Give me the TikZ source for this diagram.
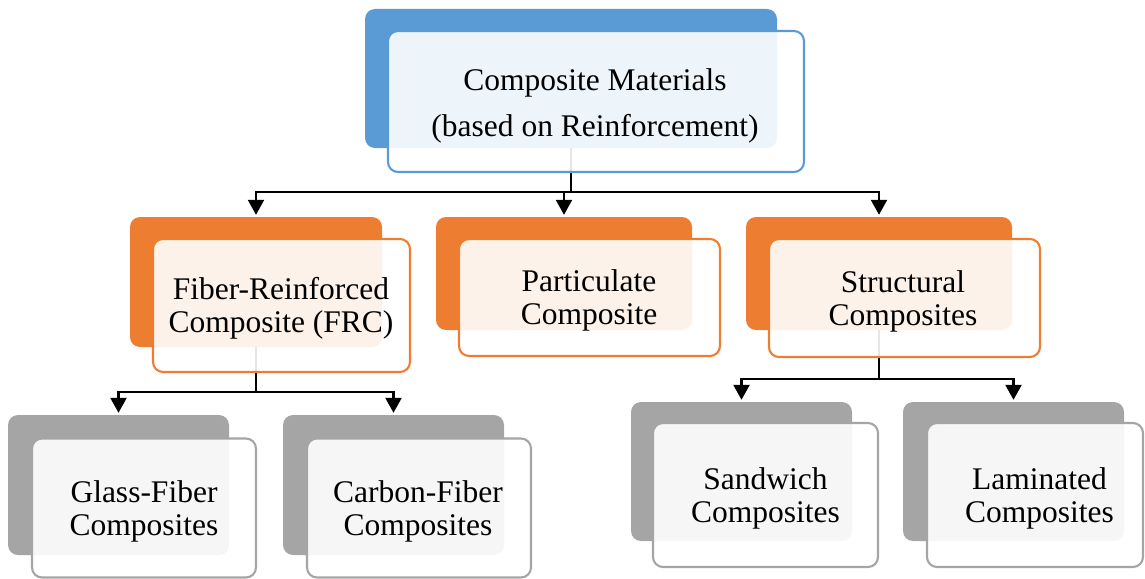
\documentclass[tikz,border=0pt]{standalone}
\usepackage{fontspec}
\setmainfont{LiberationSerif}[Extension=.ttf, UprightFont=*-Regular]
\usetikzlibrary{arrows.meta}
\definecolor{cblue}{HTML}{5B9BD5}
\definecolor{corange}{HTML}{ED7D31}
\definecolor{cgray}{HTML}{A5A5A5}
\begin{document}
\begin{tikzpicture}[x=1pt,y=-1pt,
  back/.style={rectangle, rounded corners=10pt, fill=#1, draw=none, inner sep=0pt},
  front/.style={rectangle, rounded corners=10pt, draw=#1, line width=2.1pt, fill=white, fill opacity=0.9, inner sep=0pt},
  lbl/.style={align=center, font=\rmfamily\fontsize{31.5}{33}\selectfont, inner sep=0pt, text=black},
  conn/.style={line width=2.4pt, draw=black},
  arr/.style={conn, -{Triangle[length=15pt,width=16pt]}}]
\useasboundingbox (0,0) rectangle (1145,578);
% back boxes
\node[back=cblue, minimum width=412pt, minimum height=139pt] (b0) at (571,78.5) {};
\node[back=corange, minimum width=252pt, minimum height=130pt] (b1) at (256,282) {};
\node[back=corange, minimum width=256pt, minimum height=113pt] (b2) at (564,273.5) {};
\node[back=corange, minimum width=266pt, minimum height=113pt] (b3) at (879,273.5) {};
\node[back=cgray, minimum width=221pt, minimum height=140pt] (b4) at (118.5,485) {};
\node[back=cgray, minimum width=221pt, minimum height=140pt] (b5) at (393.5,485) {};
\node[back=cgray, minimum width=221pt, minimum height=139pt] (b6) at (741.5,471.5) {};
\node[back=cgray, minimum width=221pt, minimum height=139pt] (b7) at (1013.5,471.5) {};
% connectors
\coordinate (j0) at (571,192);
\draw[conn] (b0.south) -- (j0);
\draw[arr, shorten >=2pt] (j0) -| (b1.north);
\draw[arr, shorten >=2pt] (j0) -| (b3.north);
\draw[arr, shorten >=2pt] (b2.north |- j0) -- (b2.north);
\coordinate (j1) at (256,392);
\draw[conn] (b1.south) -- (j1);
\draw[arr, shorten >=2pt] (j1) -| (b4.north);
\draw[arr, shorten >=2pt] (j1) -| (b5.north);
\coordinate (j3) at (879,379);
\draw[conn] (b3.south) -- (j3);
\draw[arr, shorten >=2pt] (j3) -| (b6.north);
\draw[arr, shorten >=2pt] (j3) -| (b7.north);
% front boxes
\node[front=cblue, minimum width=416pt, minimum height=141pt] (f0) at (596,101.5) {};
\node[front=corange, minimum width=257pt, minimum height=133pt] (f1) at (281.5,305.5) {};
\node[front=corange, minimum width=261pt, minimum height=117pt] (f2) at (589.5,297.5) {};
\node[front=corange, minimum width=271pt, minimum height=118pt] (f3) at (904.5,298) {};
\node[front=cgray, minimum width=224pt, minimum height=139pt] (f4) at (144,508) {};
\node[front=cgray, minimum width=224pt, minimum height=139pt] (f5) at (419,508) {};
\node[front=cgray, minimum width=225pt, minimum height=144pt] (f6) at (765.5,495) {};
\node[front=cgray, minimum width=216pt, minimum height=144pt] (f7) at (1035,495) {};
% labels
\node[lbl, font=\rmfamily\fontsize{31.5}{46}\selectfont] (t0) at (595,105.5) {Composite Materials\\(based on Reinforcement)};
\node[lbl] (t1) at (281,308.5) {Fiber-Reinforced\\Composite (FRC)};
\node[lbl] (t2) at (589,300.5) {Particulate\\Composite};
\node[lbl] (t3) at (903,301) {Structural\\Composites};
\node[lbl] (t4) at (144,511.5) {Glass-Fiber\\Composites};
\node[lbl] (t5) at (418,511.5) {Carbon-Fiber\\Composites};
\node[lbl] (t6) at (765.5,498.5) {Sandwich\\Composites};
\node[lbl] (t7) at (1039.5,498.5) {Laminated\\Composites};
\end{tikzpicture}
\end{document}
